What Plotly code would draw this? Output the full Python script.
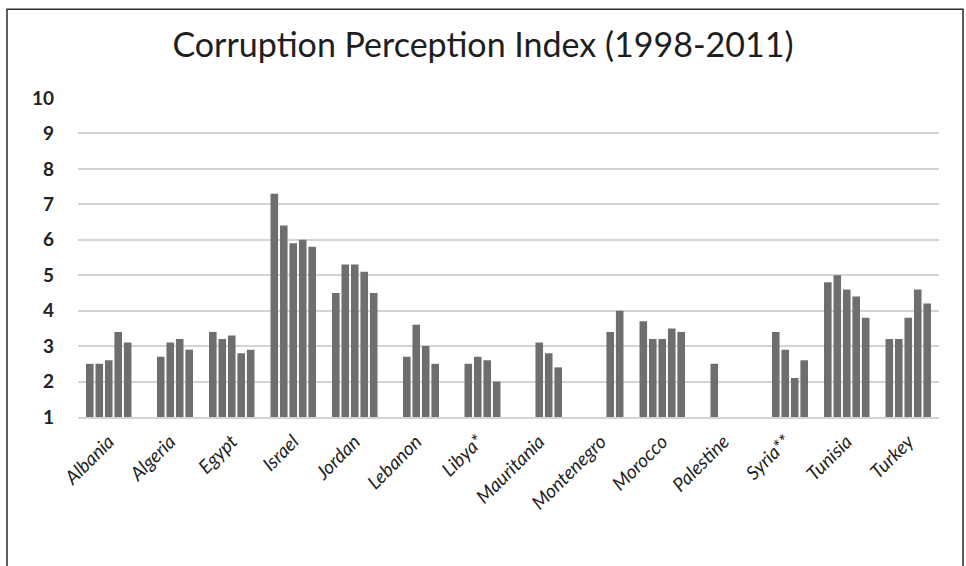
import plotly.graph_objects as go

countries = ["Albania", "Algeria", "Egypt", "Israel", "Jordan", "Lebanon", "Libya*",
             "Mauritania", "Montenegro", "Morocco", "Palestine", "Syria**", "Tunisia", "Turkey"]

series_names = ["Series 1", "Series 2", "Series 3", "Series 4", "Series 5"]

s1 = [2.5, None, 3.4, 7.3, 4.5, None, None, None, None, 3.7, None, None, 4.8, 3.2]
s2 = [2.5, 2.7, 3.2, 6.4, 5.3, 2.7, 2.5, None, None, 3.2, 2.5, 3.4, 5.0, 3.2]
s3 = [2.6, 3.1, 3.3, 5.9, 5.3, 3.6, 2.7, 3.1, None, 3.2, None, 2.9, 4.6, 3.8]
s4 = [3.4, 3.2, 2.8, 6.0, 5.1, 3.0, 2.6, 2.8, 3.4, 3.5, None, 2.1, 4.4, 4.6]
s5 = [3.1, 2.9, 2.9, 5.8, 4.5, 2.5, 2.0, 2.4, 4.0, 3.4, None, 2.6, 3.8, 4.2]

y_ticks = [1, 2, 3, 4, 5, 6, 7, 8, 9, 10]

fig = go.Figure()
for name, vals in zip(series_names, [s1, s2, s3, s4, s5]):
    fig.add_trace(go.Bar(x=countries, y=vals, name=name,
                         marker=dict(color="#6e6e6e", line=dict(width=0))))

fig.update_layout(
    width=966, height=566,
    margin=dict(l=78, r=27, t=98, b=149),
    paper_bgcolor="white", plot_bgcolor="white",
    barmode="group", bargap=0.23, bargroupgap=0.2,
    showlegend=False,
    title=dict(text="Corruption Perception Index (1998-2011)",
               x=0.5, xanchor="center", xref="container",
               y=1 - 45 / 566, yref="container", yanchor="middle",
               font=dict(family="Lato", size=34, color="#1e1e1e")),
    font=dict(family="Lato"),
)

fig.update_yaxes(range=[1, 10], tickvals=y_ticks, ticktext=[str(v) for v in y_ticks],
                 showgrid=True, gridcolor="#d4d4d4", gridwidth=2,
                 zeroline=False, showline=False,
                 tickfont=dict(family="Lato", size=19, color="#222222", weight="bold"),
                 ticklabelstandoff=23)

fig.update_xaxes(tickangle=-45, showline=True, linecolor="#d4d4d4", linewidth=2,
                 tickfont=dict(family="Lato", size=19, color="#222222", style="italic"),
                 ticks="", ticklabelstandoff=4)

# outer frame
x0 = (7 - 78) / 861
x1 = (963 - 78) / 861
y_top = (417 - 10) / 318.5
y_bot = (417 - 620) / 318.5
fig.add_shape(type="rect", xref="paper", yref="paper", x0=x0, x1=x1, y0=y_bot, y1=y_top,
              line=dict(color="#2a2a2a", width=1.5), fillcolor="rgba(0,0,0,0)", layer="above")

fig.write_html("out.html")
